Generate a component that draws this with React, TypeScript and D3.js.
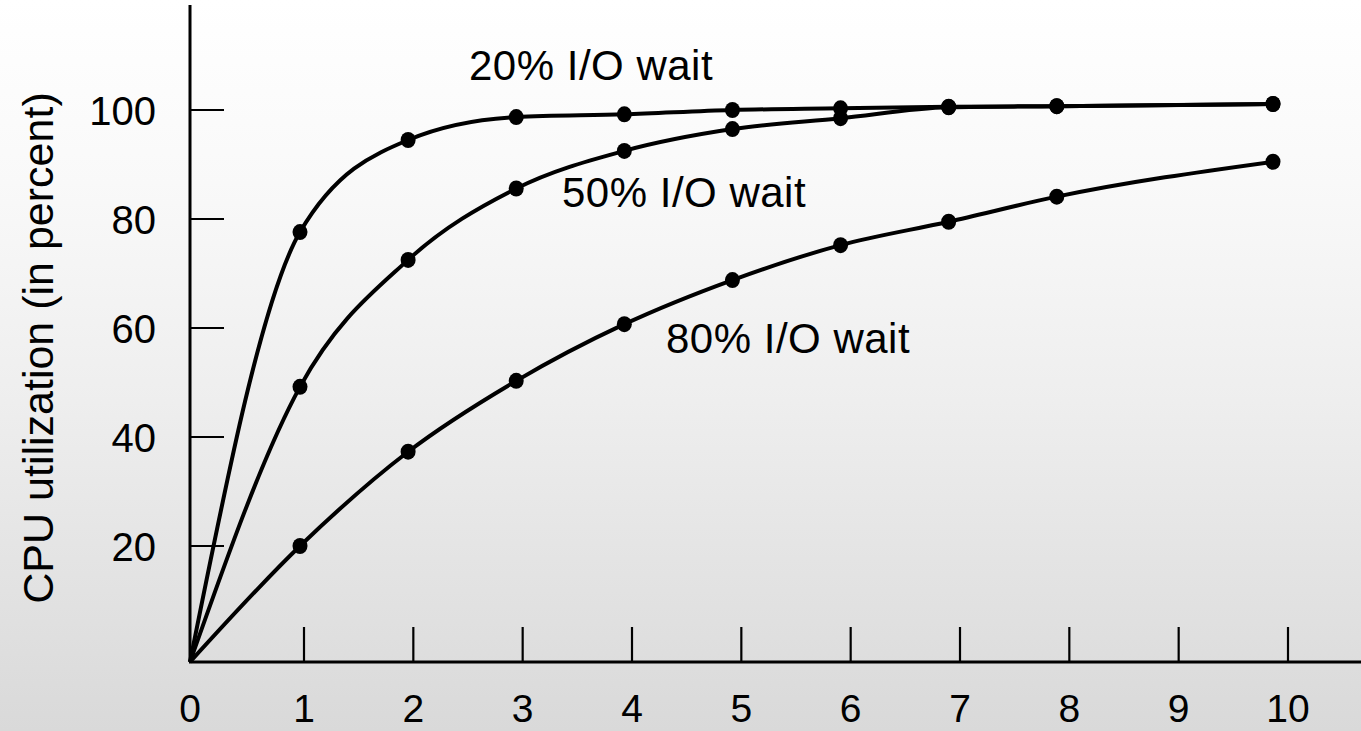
import React from "react";
import * as d3 from "d3";

const degrees = [0, 1, 2, 3, 4, 5, 6, 7, 8, 10];
const wait20 = [0, 77.6, 94.5, 98.7, 99.2, 100.0, 100.3, 100.6, 100.7, 101.1];
const wait50 = [0, 49.2, 72.5, 85.6, 92.5, 96.5, 98.5, 100.5, 100.7, 101.1];
const wait80 = [0, 20.0, 37.3, 50.3, 60.7, 68.8, 75.2, 79.5, 84.1, 90.5];
const seriesLabels = ["20% I/O wait", "50% I/O wait", "80% I/O wait"];
const xTicks = [0, 1, 2, 3, 4, 5, 6, 7, 8, 9, 10];
const yTicks = [20, 40, 60, 80, 100];
const yTitle = "CPU utilization (in percent)";

const W = 1361;
const H = 731;
const FONT = "'Liberation Sans', Arial, Helvetica, sans-serif";

export default function App() {
  // data scales (hand-drawn figure: points sit slightly left of ticks)
  const xData = d3.scaleLinear().domain([0, 1, 10]).range([190, 300, 1273]);
  const xAxis = d3.scaleLinear().domain([0, 1, 10]).range([190, 304, 1288]);
  const y = d3.scaleLinear().domain([0, 20, 100]).range([662, 546, 110]);

  const series = [wait20, wait50, wait80].map((vals) =>
    degrees.map((d, i) => [d, vals[i]] as [number, number])
  );

  const line = d3
    .line<[number, number]>()
    .x((d) => xData(d[0]))
    .y((d) => y(d[1]))
    .curve(d3.curveMonotoneX);

  const labelPos = [
    { x: 469, y: 80 },
    { x: 562, y: 207 },
    { x: 666, y: 353 },
  ];

  return (
    <svg
      width={W}
      height={H}
      style={{ position: "absolute", left: 0, top: 0, display: "block" }}
      fontFamily={FONT}
    >
      <defs>
        <linearGradient id="bg" x1="0" y1="0" x2="0" y2="1">
          <stop offset="0" stopColor="#ffffff" />
          <stop offset="0.25" stopColor="#f9f9f9" />
          <stop offset="0.55" stopColor="#eeeeee" />
          <stop offset="1" stopColor="#d9d9d9" />
        </linearGradient>
      </defs>
      <rect x={0} y={0} width={W} height={H} fill="url(#bg)" />

      {/* axes */}
      <line x1={190} y1={5} x2={190} y2={y(0)} stroke="#000" strokeWidth={3} />
      <line x1={189} y1={y(0)} x2={W} y2={y(0)} stroke="#000" strokeWidth={3} />

      {yTicks.map((t) => (
        <g key={"y" + t}>
          <line x1={190} x2={224} y1={y(t)} y2={y(t)} stroke="#000" strokeWidth={2.2} />
          <text x={156} y={y(t) + 14.5} textAnchor="end" fontSize={40} fill="#000">
            {t}
          </text>
        </g>
      ))}

      {xTicks.map((t) => (
        <g key={"x" + t}>
          {t > 0 && (
            <line x1={xAxis(t)} x2={xAxis(t)} y1={y(0)} y2={627} stroke="#000" strokeWidth={2.2} />
          )}
          <text x={xAxis(t)} y={722} textAnchor="middle" fontSize={39} fill="#000">
            {t}
          </text>
        </g>
      ))}

      <text
        transform="translate(53,348) rotate(-90)"
        textAnchor="middle"
        fontSize={43}
        fill="#000"
      >
        {yTitle}
      </text>

      {series.map((s, i) => (
        <path key={"l" + i} d={line(s) || ""} fill="none" stroke="#000" strokeWidth={4} />
      ))}
      {series.map((s, i) =>
        s
          .filter((p) => p[0] > 0)
          .map((p, j) => (
            <ellipse
              key={"d" + i + "-" + j}
              cx={xData(p[0])}
              cy={y(p[1])}
              rx={7.5}
              ry={8}
              fill="#000"
            />
          ))
      )}

      {seriesLabels.map((lab, i) => (
        <text
          key={lab}
          x={labelPos[i].x}
          y={labelPos[i].y}
          fontSize={42}
          letterSpacing={0.5}
          fill="#000"
        >
          {lab}
        </text>
      ))}
    </svg>
  );
}
